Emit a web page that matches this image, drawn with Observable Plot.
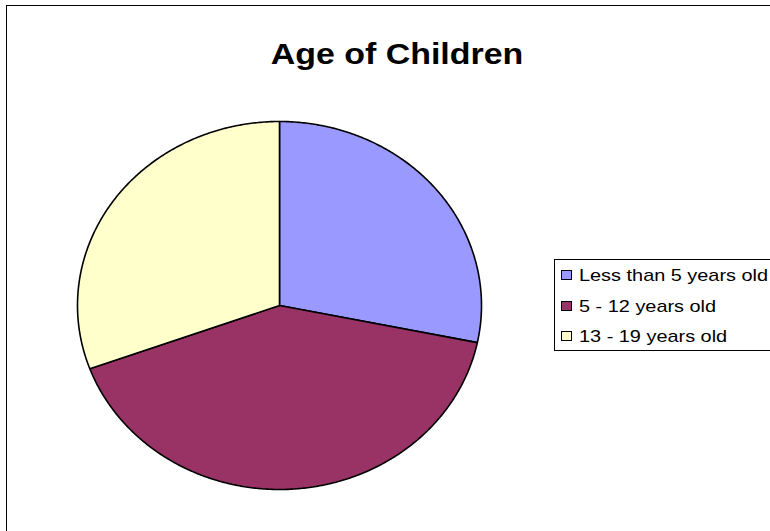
<!DOCTYPE html>
<html>
<head>
<meta charset="utf-8">
<script src="https://cdn.jsdelivr.net/npm/d3@7"></script>
<script src="https://cdn.jsdelivr.net/npm/@observablehq/plot@0.6"></script>
<style>
  html, body { margin: 0; padding: 0; background: #fff; overflow: hidden; width: 770px; height: 531px; }
  body { position: relative; font-family: "Liberation Sans", Arial, sans-serif; }
  #frame { position: absolute; left: 6px; top: 5px; width: 900px; height: 700px; border: 1px solid #000; box-sizing: border-box; }
  #title { position: absolute; left: 396.7px; top: 39.5px; font-weight: bold; font-size: 29px; line-height: 29px; color: #000; white-space: nowrap; transform: translateX(-50%) scaleX(1.17); transform-origin: center; }
  #chart { position: absolute; left: 0; top: 0; }
  #legend { position: absolute; left: 554px; top: 259px; width: 400px; height: 92px; border: 1px solid #000; box-sizing: border-box; background: #fff; }
  .txt { position: absolute; left: 24px; font-size: 17px; line-height: 17px; color: #000; white-space: nowrap; transform: scaleX(1.17); transform-origin: left center; }
  .sw { position: absolute; left: 6px; width: 11px; height: 10px; border: 1px solid #000; box-sizing: border-box; }
</style>
</head>
<body>
<div id="frame"></div>
<div id="chart"></div>
<div id="title">Age of Children</div>
<div id="legend"></div>
<script>
const categories = ["Less than 5 years old", "5 - 12 years old", "13 - 19 years old"];
const values = [24, 35, 26];
const colors = ["#9999FF", "#993366", "#FFFFCC"];

const arcs = d3.pie().sort(null).value(d => d)(values);

function slicePoints(arc, i) {
  const pts = [{x: 0, y: 0, k: i}];
  const n = Math.max(2, Math.ceil((arc.endAngle - arc.startAngle) / (Math.PI / 360)));
  for (let j = 0; j <= n; j++) {
    const a = arc.startAngle + (arc.endAngle - arc.startAngle) * j / n;
    pts.push({x: Math.sin(a), y: Math.cos(a), k: i});
  }
  pts.push({x: 0, y: 0, k: i});
  return pts;
}

const marks = arcs.map((arc, i) =>
  Plot.line(slicePoints(arc, i), {x: "x", y: "y", fill: colors[i], stroke: "#000", strokeWidth: 1.6, strokeLinejoin: "round"})
);

const plot = Plot.plot({
  width: 770,
  height: 531,
  margin: 0,
  x: {domain: [-1, 1], range: [77, 481], axis: null},
  y: {domain: [-1, 1], range: [489, 121], axis: null},
  marks
});
document.getElementById("chart").appendChild(plot);

const legend = document.getElementById("legend");
const baselines = [21.3, 52, 82.3];
categories.forEach((c, i) => {
  const sw = document.createElement("div");
  sw.className = "sw";
  sw.style.top = (baselines[i] - 11) + "px";
  sw.style.background = colors[i];
  legend.appendChild(sw);
  const t = document.createElement("div");
  t.className = "txt";
  t.style.top = (baselines[i] - 14.4) + "px";
  t.textContent = c;
  legend.appendChild(t);
});
</script>
</body>
</html>
